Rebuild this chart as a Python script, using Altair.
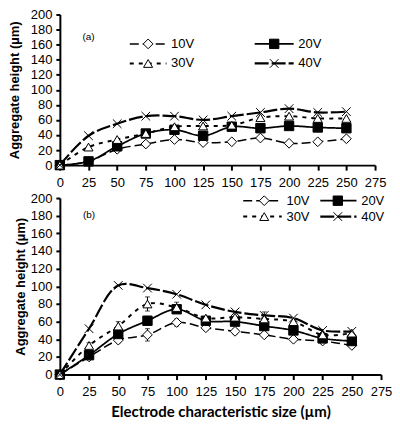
import altair as alt
import pandas as pd

sizes = [0, 25, 50, 75, 100, 125, 150, 175, 200, 225, 250]
series_names = ["10V", "20V", "30V", "40V"]

# panel (a)
top_10 = [0, 5, 21, 28, 34, 30, 31, 36, 29, 31, 35]
top_20 = [0, 5, 25, 42, 47, 39, 51, 49, 52, 50, 49]
top_30 = [0, 24, 34, 42, 51, 52, 53, 63, 65, 62, 62]
top_40 = [0, 39, 55, 65, 65, 60, 65, 70, 75, 70, 71]

# panel (b)
bot_10 = [0, 20, 39, 45, 59, 53, 49, 45, 40, 38, 33]
bot_20 = [0, 22, 46, 61, 74, 61, 60, 55, 50, 41, 38]
bot_30 = [0, 33, 55, 80, 76, 64, 65, 63, 60, 45, 47]
bot_40 = [0, 52, 101, 98, 91, 79, 71, 67, 64, 50, 49]
bot_err_10 = [0, 0, 3, 7, 4, 3, 3, 2, 0, 0, 0]
bot_err_20 = [0, 0, 0, 5, 4, 0, 0, 0, 0, 0, 0]
bot_err_30 = [0, 3, 5, 8, 6, 0, 0, 0, 0, 0, 0]
bot_err_40 = [0, 0, 0, 0, 0, 0, 0, 4, 0, 0, 0]

x_ticks = [0, 25, 50, 75, 100, 125, 150, 175, 200, 225, 250, 275]
y_ticks = [0, 20, 40, 60, 80, 100, 120, 140, 160, 180, 200]

# legend entries (position in data units of each panel)
leg_series = ["10V", "20V", "30V", "40V"]
top_leg_x0 = [61, 170, 61, 170]
top_leg_xm = [77, 187, 77, 187]
top_leg_x1 = [93, 204, 93, 204]
top_leg_y = [161, 161, 135, 135]
bot_leg_x0 = [157, 223, 157, 223]
bot_leg_xm = [175, 238, 175, 238]
bot_leg_x1 = [190, 254, 190, 254]
bot_leg_y = [197, 197, 179, 179]

x_path = "M-1,-1L1,1M-1,1L1,-1"
YT = "Aggregate height (µm)"
XT = "Electrode characteristic size (µm)"


def long_df(vals, errs=None):
    rows = []
    for s, v in zip(series_names, vals):
        e = errs[series_names.index(s)] if errs else [0] * len(sizes)
        for x, y, er in zip(sizes, v, e):
            rows.append({"size": x, "value": y, "series": s, "err": er,
                         "lo": y - er, "hi": y + er})
    return pd.DataFrame(rows)


def legend_df(x0, xm, x1, y):
    return pd.DataFrame({"series": leg_series, "x0": x0, "xm": xm, "x1": x1,
                         "y": y, "label": leg_series,
                         "lx": [v + 4 for v in x1]})


sc_shape = alt.Scale(domain=series_names, range=["diamond", "square", "triangle-up", x_path])
sc_fill = alt.Scale(domain=series_names, range=["white", "black", "white", "white"])
sc_dash = alt.Scale(domain=series_names, range=[[9, 4], [1, 0], [4, 5], [14, 3]])
sc_sw = alt.Scale(domain=series_names, range=[1.5, 2.2, 1.5, 1.5])
sc_size = alt.Scale(domain=series_names, range=[95, 75, 85, 110])

XS = alt.Scale(domain=[0, 275], nice=False)
YS = alt.Scale(domain=[0, 200], nice=False)


def panel(df, ldf, tag, tag_x, tag_y, w, h, title_pad, xtitle):
    common = dict(values=x_ticks, grid=False, tickSize=5, labelPadding=6,
                  labelOverlap=False, labelFlush=False, labelBound=False)
    if xtitle is None:
        xaxis = alt.Axis(title=None, **common)
        xt = None
    else:
        xaxis = alt.Axis(title=xtitle, titleFont="Lato", titleFontSize=15,
                         titleFontWeight="bold", titlePadding=6, **common)
        xt = xtitle
    yaxis = alt.Axis(values=y_ticks, grid=False, tickSize=4, labelPadding=4,
                     labelOverlap=False, labelFlush=False, labelBound=False,
                     title=YT, titleFont="Liberation Sans", titleFontSize=13,
                     titleFontWeight="bold", titlePadding=title_pad)

    def X(f):
        return alt.X(f, scale=XS, title=xt, axis=xaxis)

    def Y(f):
        return alt.Y(f, scale=YS, title=YT, axis=yaxis)

    base = alt.Chart(df)
    lines = base.mark_line(interpolate="catmull-rom", color="black").encode(
        x=X("size:Q"),
        y=Y("value:Q"),
        detail="series:N",
        strokeDash=alt.StrokeDash("series:N", scale=sc_dash, legend=None),
        strokeWidth=alt.StrokeWidth("series:N", scale=sc_sw, legend=None),
    )
    errs = base.transform_filter("datum.err > 0").mark_errorbar(
        ticks=True, color="black", thickness=1).encode(
        x=X("size:Q"),
        y=Y("lo:Q"),
        y2="hi:Q",
    )
    pts = base.mark_point(filled=False, stroke="black", strokeWidth=1, opacity=1).encode(
        x=X("size:Q"),
        y=Y("value:Q"),
        shape=alt.Shape("series:N", scale=sc_shape, legend=None),
        fill=alt.Fill("series:N", scale=sc_fill, legend=None),
        size=alt.Size("series:N", scale=sc_size, legend=None),
        order=alt.Order("series:N"),
    )
    lbase = alt.Chart(ldf)
    lrule = lbase.mark_rule(color="black").encode(
        x=X("x0:Q"), x2="x1:Q", y=Y("y:Q"),
        strokeDash=alt.StrokeDash("series:N", scale=sc_dash, legend=None),
        strokeWidth=alt.StrokeWidth("series:N", scale=sc_sw, legend=None),
    )
    lpts = lbase.mark_point(filled=False, stroke="black", strokeWidth=1, opacity=1).encode(
        x=X("xm:Q"), y=Y("y:Q"),
        shape=alt.Shape("series:N", scale=sc_shape, legend=None),
        fill=alt.Fill("series:N", scale=sc_fill, legend=None),
        size=alt.Size("series:N", scale=sc_size, legend=None),
    )
    ltext = lbase.mark_text(align="left", baseline="middle", font="Liberation Sans",
                            fontSize=13, color="black").encode(
        x=X("lx:Q"), y=Y("y:Q"), text="label:N")
    tagdf = pd.DataFrame({"x": [tag_x], "y": [tag_y], "t": [tag]})
    ttext = alt.Chart(tagdf).mark_text(font="Liberation Sans", fontSize=10,
                                       color="black").encode(
        x=X("x:Q"), y=Y("y:Q"), text="t:N")
    return alt.layer(lines, errs, pts, lrule, lpts, ltext, ttext).properties(
        width=w, height=h)


top = panel(long_df([top_10, top_20, top_30, top_40]),
            legend_df(top_leg_x0, top_leg_xm, top_leg_x1, top_leg_y),
            "(a)", 25, 170, 316, 151, 9, None)
bot = panel(long_df([bot_10, bot_20, bot_30, bot_40],
                    [bot_err_10, bot_err_20, bot_err_30, bot_err_40]),
            legend_df(bot_leg_x0, bot_leg_xm, bot_leg_x1, bot_leg_y),
            "(b)", 25, 181, 322, 177, 3, XT)

chart = alt.vconcat(top, bot, spacing=3).properties(padding=0).configure_view(
    stroke=None).configure_axis(
    domainColor="black", domainWidth=2, tickColor="black", tickWidth=2,
    labelColor="black", labelFont="Liberation Sans", labelFontSize=13,
    labelOverlap=False, titleColor="black")

chart.save("out.html", embed_options={"renderer": "svg", "actions": False})
